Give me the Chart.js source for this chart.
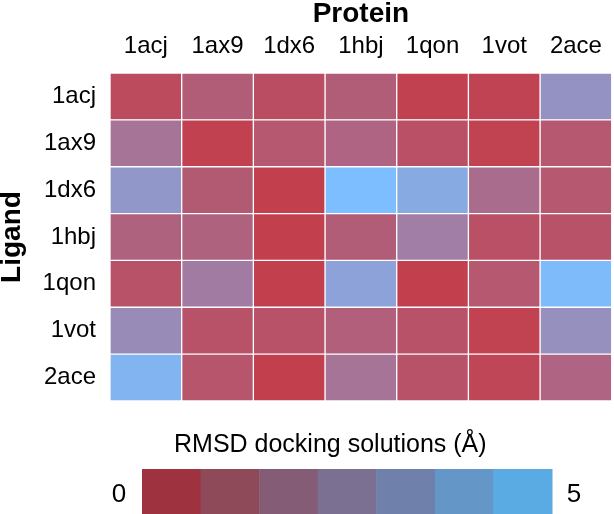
<!DOCTYPE html>
<html>
<head>
<meta charset="utf-8">
<script src="https://cdn.jsdelivr.net/npm/chart.js@4.4.0/dist/chart.umd.min.js"></script>
<style>
  html, body { margin: 0; padding: 0; background: #fff; }
  #heat { display: block; }
</style>
</head>
<body>
<canvas id="heat" width="614" height="514"></canvas>
<script>
// proteins across the top, ligands down the side
const proteins = ['1acj', '1ax9', '1dx6', '1hbj', '1qon', '1vot', '2ace'];
const ligands = ['1acj', '1ax9', '1dx6', '1hbj', '1qon', '1vot', '2ace'];

// RMSD (Å), one row per ligand
const rmsd_1acj = [0.5, 1.2, 0.6, 1.2, 0.1, 0.2, 3.3];
const rmsd_1ax9 = [2.1, 0.1, 1.0, 1.5, 0.7, 0.15, 1.0];
const rmsd_1dx6 = [3.5, 1.1, 0.05, 5.0, 4.2, 1.8, 1.0];
const rmsd_1hbj = [1.4, 1.4, 0.05, 1.2, 2.5, 0.7, 0.8];
const rmsd_1qon = [0.8, 2.4, 0.05, 3.9, 0.05, 1.0, 4.9];
const rmsd_1vot = [3.0, 0.8, 0.8, 1.3, 0.8, 0.15, 3.2];
const rmsd_2ace = [4.6, 0.9, 0.05, 2.1, 0.8, 0.3, 1.5];
const rmsd = [rmsd_1acj, rmsd_1ax9, rmsd_1dx6, rmsd_1hbj, rmsd_1qon, rmsd_1vot, rmsd_2ace];

const scaleMin = 0, scaleMax = 5;
const scaleTicks = ['0', '5'];

// colour bar swatches under the map
const barColours = ['#9e323e', '#8f4a5a', '#855c75', '#7b7091', '#6f80aa', '#6496c8', '#5aaae4'];

const lo = [195, 62, 76];
const hi = [124, 190, 255];
function cellColour(v) {
    let t = (v - scaleMin) / (scaleMax - scaleMin);
    t = Math.max(0, Math.min(1, t));
    const c = lo.map((a, k) => Math.round(a + (hi[k] - a) * t));
    return 'rgb(' + c.join(',') + ')';
}

const datasets = proteins.map((p, j) => ({
    label: p,
    data: ligands.map(() => 1),
    backgroundColor: ligands.map((l, i) => cellColour(rmsd[i][j])),
    borderColor: '#ffffff',
    borderWidth: 1,
    borderSkipped: false,
    barPercentage: 1,
    categoryPercentage: 1
}));

const font = "'Liberation Sans', Arial, Helvetica, sans-serif";

// colour bar legend with its title
const colourBar = {
    id: 'colourBar',
    afterDraw(chart) {
        const c = chart.ctx;
        c.save();
        c.fillStyle = '#000';
        c.font = '25px ' + font;
        c.textAlign = 'left';
        c.textBaseline = 'alphabetic';
        c.fillText('RMSD docking solutions (Å)', 174, 452);
        const x0 = 142, x1 = 552, top = 469, h = 45;
        const w = (x1 - x0) / barColours.length;
        barColours.forEach((col, k) => {
            c.fillStyle = col;
            c.fillRect(x0 + k * w, top, w + 0.5, h);
        });
        c.fillStyle = '#000';
        c.font = '26px ' + font;
        c.textAlign = 'center';
        c.fillText(scaleTicks[0], 119, 502);
        c.fillText(scaleTicks[1], 574, 502);
        c.restore();
    }
};

new Chart(document.getElementById('heat'), {
    type: 'bar',
    data: { labels: ligands, datasets: datasets },
    options: {
        indexAxis: 'y',
        responsive: false,
        animation: false,
        layout: { padding: { top: 0, right: 1, bottom: 113, left: 0 } },
        plugins: { legend: { display: false }, tooltip: { enabled: false } },
        scales: {
            x: {
                position: 'top',
                stacked: true,
                min: 0,
                max: proteins.length,
                grid: { display: false, drawTicks: false },
                border: { display: false },
                afterFit(s) { s.height = 73; },
                afterBuildTicks(s) {
                    s.ticks = proteins.map((p, j) => ({ value: j + 0.5 }));
                },
                ticks: {
                    autoSkip: false,
                    maxRotation: 0,
                    padding: 12,
                    color: '#000',
                    font: { family: font, size: 24 },
                    callback: (v) => proteins[Math.floor(v)]
                },
                title: {
                    display: true,
                    text: 'Protein',
                    color: '#000',
                    font: { family: font, size: 28, weight: 'bold' },
                    padding: { top: -3, bottom: 0 }
                }
            },
            y: {
                stacked: true,
                grid: { display: false, drawTicks: false },
                border: { display: false },
                afterFit(s) { s.width = 110; },
                ticks: {
                    padding: 14,
                    color: '#000',
                    font: { family: font, size: 24 }
                },
                title: {
                    display: true,
                    text: 'Ligand',
                    color: '#000',
                    font: { family: font, size: 28, weight: 'bold' },
                    padding: { top: -5, bottom: 0 }
                }
            }
        }
    },
    plugins: [colourBar]
});
</script>
</body>
</html>
